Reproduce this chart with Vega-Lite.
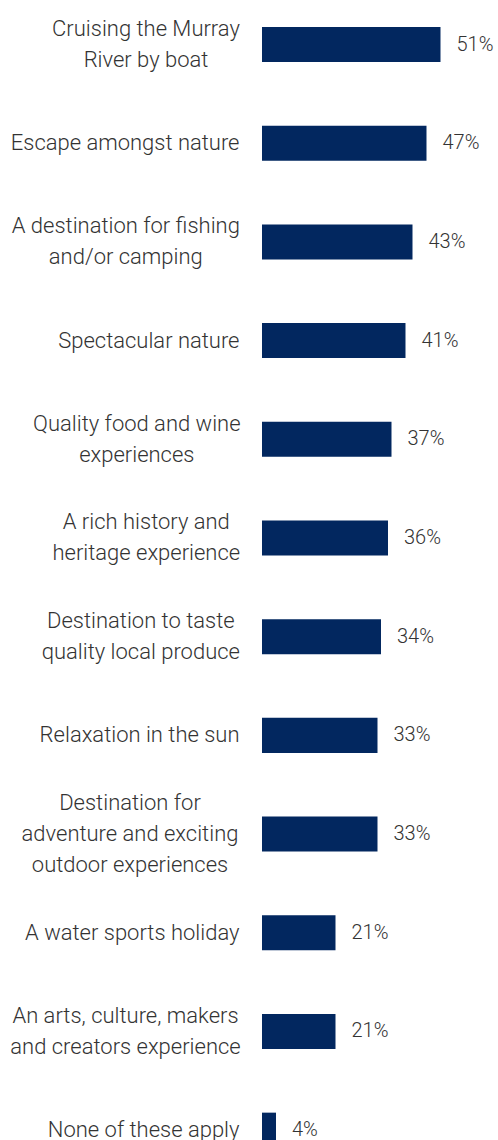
{
  "$schema": "https://vega.github.io/schema/vega-lite/v6.json",
  "autosize": {"type": "none"},
  "padding": {"left": 262, "top": 0, "right": 0, "bottom": 0},
  "width": 236,
  "height": 1174.7,
  "background": "white",
  "config": {"view": {"stroke": null}, "font": "Roboto"},
  "data": {
    "values": [
      {"item": "Cruising the Murray|River by boat", "pct": 0.51},
      {"item": "Escape amongst nature", "pct": 0.47},
      {"item": "A destination for fishing|and/or camping", "pct": 0.43},
      {"item": "Spectacular nature", "pct": 0.41},
      {"item": "Quality food and wine|experiences", "pct": 0.37},
      {"item": "A rich history and|heritage experience", "pct": 0.36},
      {"item": "Destination to taste|quality local produce", "pct": 0.34},
      {"item": "Relaxation in the sun", "pct": 0.33},
      {"item": "Destination for|adventure and exciting|outdoor experiences", "pct": 0.33},
      {"item": "A water sports holiday", "pct": 0.21},
      {"item": "An arts, culture, makers|and creators experience", "pct": 0.21},
      {"item": "None of these apply", "pct": 0.04}
    ]
  },
  "encoding": {
    "y": {
      "field": "item",
      "type": "nominal",
      "sort": null,
      "scale": {"paddingInner": 0.645, "paddingOuter": 0.2736},
      "axis": {
        "title": null,
        "domain": false,
        "ticks": false,
        "labelExpr": "split(datum.label, '|')",
        "labelFont": "Roboto",
        "labelFontWeight": 300,
        "labelFontSize": 22,
        "labelColor": "#333333",
        "labelLineHeight": 31,
        "labelLimit": 300,
        "labelBaseline": "middle",
        "labelAlign": {
          "condition": {"test": "indexof(datum.value, '|') >= 0", "value": "center"},
          "value": "right"
        },
        "labelPadding": {
          "condition": [
            {"test": "datum.value == 'Cruising the Murray|River by boat'", "value": 116.5},
            {"test": "datum.value == 'A destination for fishing|and/or camping'", "value": 136.7},
            {"test": "datum.value == 'Quality food and wine|experiences'", "value": 125.7},
            {"test": "datum.value == 'A rich history and|heritage experience'", "value": 116.2},
            {"test": "datum.value == 'Destination to taste|quality local produce'", "value": 121.7},
            {"test": "datum.value == 'Destination for|adventure and exciting|outdoor experiences'", "value": 132.5},
            {"test": "datum.value == 'An arts, culture, makers|and creators experience'", "value": 137}
          ],
          "value": 23
        },
        "labelOffset": {
          "condition": [
            {"test": "length(split(datum.value, '|')) == 3", "value": -31},
            {"test": "length(split(datum.value, '|')) == 2", "value": -15.5}
          ],
          "value": 0
        }
      }
    },
    "x": {
      "field": "pct",
      "type": "quantitative",
      "scale": {"domain": [0, 0.6743]},
      "axis": null
    }
  },
  "layer": [
    {"mark": {"type": "bar", "color": "#02275F"}},
    {
      "mark": {"type": "text", "align": "left", "baseline": "middle", "dx": 16, "font": "Roboto", "fontWeight": 300, "fontSize": 20, "color": "#333333"},
      "encoding": {"text": {"field": "pct", "type": "quantitative", "format": ".0%"}}
    }
  ]
}
